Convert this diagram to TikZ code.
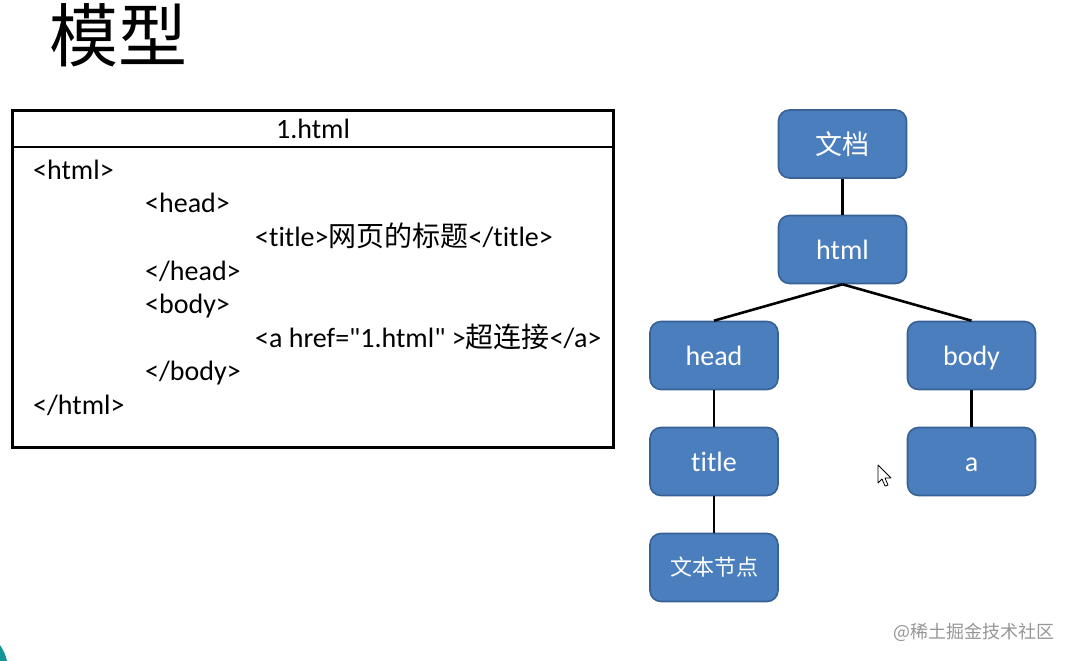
\documentclass[tikz,border=0pt]{standalone}
\usepackage{fontspec}
\setmainfont{Carlito}
\newfontfamily\lat{Carlito}[Ligatures=NoCommon]
\newfontfamily\cjk{Noto Sans CJK SC}
\definecolor{nodeblue}{RGB}{74,126,189}
\definecolor{nodeedge}{RGB}{56,97,150}
\definecolor{wmgray}{RGB}{150,150,150}
\definecolor{tealc}{RGB}{20,150,150}
\begin{document}
\begin{tikzpicture}[x=1pt,y=-1pt,
  treenode/.style={draw=nodeedge, line width=1.6pt, fill=nodeblue, rounded corners=11pt,
    minimum width=128pt, minimum height=68pt, text=white, inner sep=0pt,
    font=\lat\fontsize{28}{32}\selectfont},
  lattext/.style={text height=19.6pt, text depth=0pt},
  link/.style={line width=2.6pt, black},
  codeline/.style={anchor=base west, inner sep=0pt, font=\lat\fontsize{28}{32}\selectfont}
]
\useasboundingbox (0,0) rectangle (1074,661);
\fill[white] (0,0) rectangle (1074,661);

% title
\node[font=\cjk\fontsize{69}{69}\selectfont, inner sep=0pt] (title) at (118.5,35) {模型};

% code box
\node[draw, line width=2.8pt, minimum width=601pt, minimum height=337pt, inner sep=0pt] (codebox) at (313,279) {};
\coordinate (hl) at (12,147);
\coordinate (hr) at (614,147);
\draw[line width=2.8pt] (hl) -- (hr);
\node[codeline, anchor=base] (hdr) at (313,138) {1.html};

\node[codeline] (c1) at (33,179) {<html>};
\node[codeline] (c2) at (145,212.5) {<head>};
\node[codeline] (c3) at (255,246) {<title>{\cjk 网页的标题}</title>};
\node[codeline] (c4) at (145,280) {</head>};
\node[codeline] (c5) at (145,313) {<body>};
\node[codeline] (c6) at (255,347) {<a href="1.html" >{\cjk 超连接}</a>};
\node[codeline] (c7) at (145,380.5) {</body>};
\node[codeline] (c8) at (33,414) {</html>};

% tree
\node[treenode, font=\cjk\fontsize{27}{30}\selectfont] (doc) at (842.5,144) {文档};
\node[treenode, lattext] (html) at (842.5,249.5) {html};
\node[treenode, lattext] (head) at (714,355.5) {head};
\node[treenode, lattext] (body) at (971.5,355.5) {body};
\node[treenode, lattext] (ttl) at (714,461.5) {title};
\node[treenode, lattext] (a) at (971.5,461.5) {a};
\node[treenode, font=\cjk\fontsize{22}{26}\selectfont] (txt) at (714,567.5) {文本节点};

\draw[link] (doc.south) -- (html.north);
\draw[link] (html.south) -- (head.north);
\draw[link] (html.south) -- (body.north);
\draw[link] (head.south) -- (ttl.north);
\draw[link] (ttl.south) -- (txt.north);
\draw[link] (body.south) -- (a.north);

% mouse cursor
\draw[line width=0.8pt, fill=white, line join=round]
  (878,465) -- (878,483) -- (882,479) -- (885,486) -- (888,485) -- (885,478) -- (891,478) -- cycle;

% watermark
\node[font=\cjk\fontsize{18}{20}\selectfont, text=wmgray, inner sep=0pt] (wm) at (974,632) {@稀土掘金技术社区};

% teal corner
\fill[tealc] (0,645) .. controls (4,651) and (6,656) .. (7,661) -- (0,661) -- cycle;
\end{tikzpicture}
\end{document}
